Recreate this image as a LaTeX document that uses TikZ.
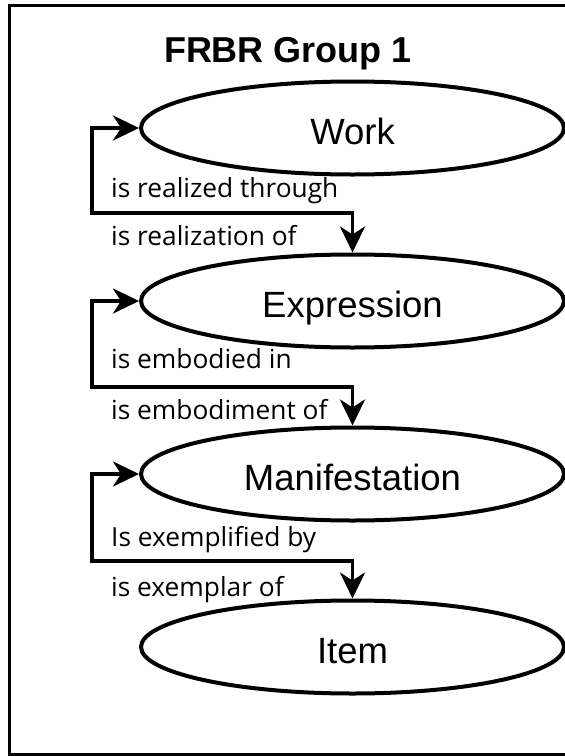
\documentclass[tikz,border=0pt]{standalone}
\usepackage{fontspec}
\setmainfont{Liberation Sans}
\newfontfamily\osfont{Open Sans}
\usetikzlibrary{shapes.geometric,arrows.meta}
\begin{document}
\begin{tikzpicture}[x=1pt,y=-1pt,
  entity/.style={draw,line width=4pt,ellipse,minimum width=423pt,minimum height=93pt,inner sep=0pt,
    font=\fontsize{36.5}{40}\selectfont,text height=32pt,text depth=0pt},
  conn/.style={line width=3.7pt,{Stealth[length=26pt,width=25pt,inset=8pt]}-{Stealth[length=26pt,width=25pt,inset=8pt]}},
  rel/.style={anchor=base west,inner sep=0pt,font=\osfont\fontsize{26.3}{30}\selectfont},
  frame/.style={draw,line width=3pt}
]
\useasboundingbox (0,0) rectangle (565,756);
\coordinate (ftr) at (566,5);
\coordinate (ftl) at (9,5);
\coordinate (fbl) at (9,754);
\coordinate (fbr) at (566,754);
\draw[frame] (ftr) -- (ftl) -- (fbl) -- (fbr);
\node[anchor=base,inner sep=0pt,font=\bfseries\fontsize{36}{40}\selectfont] (title) at (288,62) {FRBR Group 1};
\node[entity] (work) at (352.5,128) {Work};
\node[entity] (expr) at (352.5,301) {Expression};
\node[entity] (manif) at (352.5,474) {Manifestation};
\node[entity] (item) at (352.5,647) {Item};
\coordinate (c1) at (92,213);
\coordinate (c2) at (92,387);
\coordinate (c3) at (92,561);
\draw[conn] (work.west) -| (c1) -| (expr.north);
\draw[conn] (expr.west) -| (c2) -| (manif.north);
\draw[conn] (manif.west) -| (c3) -| (item.north);
\node[rel] (r1a) at (111,197) {is realized through};
\node[rel] (r1b) at (111,245) {is realization of};
\node[rel] (r2a) at (111,368) {is embodied in};
\node[rel] (r2b) at (111,419) {is embodiment of};
\node[rel] (r3a) at (111,546) {Is exemplified by};
\node[rel] (r3b) at (111,596) {is exemplar of};
\end{tikzpicture}
\end{document}
